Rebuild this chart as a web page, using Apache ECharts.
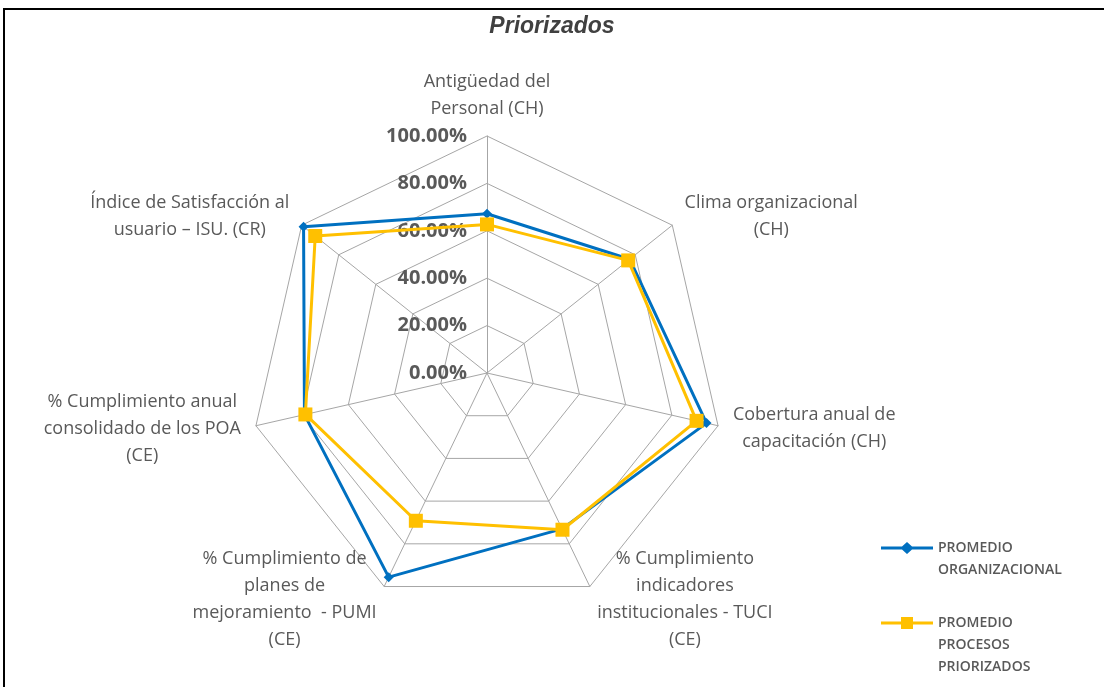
<!DOCTYPE html>
<html>
<head>
<meta charset="utf-8">
<script src="https://cdn.jsdelivr.net/npm/echarts@6/dist/echarts.min.js"></script>
<style>
html,body{margin:0;padding:0;background:#fff;}
#chart{width:1104px;height:687px;}
</style>
</head>
<body>
<div id="chart"></div>
<script>
// Indicators in ECharts order (top first, then counter-clockwise)
const categories = [
  'Antigüedad del\nPersonal (CH)',
  'Índice de Satisfacción al\nusuario – ISU. (CR)',
  '% Cumplimiento anual\nconsolidado de los POA\n(CE)',
  '% Cumplimiento de\nplanes de\nmejoramiento  - PUMI\n(CE)',
  '% Cumplimiento\nindicadores\ninstitucionales - TUCI\n(CE)',
  'Cobertura anual de\ncapacitación (CH)',
  'Clima organizacional\n(CH)'
];
const promedioOrganizacional = [67.2, 99.0, 79.0, 95.6, 73.0, 95.0, 77.0];
const promedioProcesos = [62.7, 92.7, 78.6, 69.2, 73.4, 90.7, 76.2];
const seriesNames = ['PROMEDIO\nORGANIZACIONAL', 'PROMEDIO\nPROCESOS\nPRIORIZADOS'];
const axisMax = 100;

const gray = '#595959';
const nameFont = 'Open Sans';
const nameSize = 18;

// measure label widths so each multi-line name can be centred line by line
const cv = document.createElement('canvas').getContext('2d');
cv.font = nameSize + 'px "' + nameFont + '"';
const rich = {};
categories.forEach((c, i) => {
  const w = Math.max(...c.split('\n').map(l => cv.measureText(l).width));
  rich['n' + i] = { width: Math.ceil(w) + 2, align: 'center', color: gray, fontSize: nameSize, fontFamily: nameFont, lineHeight: 27 };
});

const chart = echarts.init(document.getElementById('chart'));
const indicator = categories.map((c, i) => {
  const o = { name: c, min: 0, max: axisMax };
  if (i === 0) {
    o.axisLabel = {
      show: true,
      formatter: v => Number(v).toFixed(2) + '%',
      color: gray,
      fontSize: 20,
      fontWeight: 'bold',
      fontFamily: 'Open Sans',
      margin: 20
    };
  }
  return o;
});

function legendText(name) {
  const n = name.split('\n').length;
  return '\n'.repeat(n - 1) + name;
}

const legendTextStyle = { color: gray, fontSize: 14, fontWeight: 600, fontFamily: 'Open Sans', lineHeight: 22 };

chart.setOption({
  backgroundColor: '#fff',
  animation: false,
  title: {
    text: 'Priorizados',
    left: 'center',
    top: 10,
    textStyle: { fontFamily: 'Liberation Sans', fontSize: 23, fontWeight: 'bold', fontStyle: 'italic', color: '#404040' }
  },
  graphic: [{
    type: 'rect',
    shape: { x: 4, y: 9, width: 1200, height: 800 },
    style: { fill: 'none', stroke: '#000', lineWidth: 2 },
    silent: true
  }],
  legend: [{
    orient: 'vertical',
    left: 876,
    top: 510,
    itemWidth: 52,
    itemHeight: 12,
    formatter: legendText,
    data: [{
      name: seriesNames[0],
      icon: 'path://M0,4.5 L21,4.5 L26,0 L31,4.5 L52,4.5 L52,7.5 L31,7.5 L26,12 L21,7.5 L0,7.5 Z',
      itemStyle: { color: '#0070C0' }
    }],
    textStyle: legendTextStyle
  }, {
    orient: 'vertical',
    left: 876,
    top: 563,
    itemWidth: 52,
    itemHeight: 12,
    formatter: legendText,
    data: [{
      name: seriesNames[1],
      icon: 'path://M0,4.5 L20,4.5 L20,0 L32,0 L32,4.5 L52,4.5 L52,7.5 L32,7.5 L32,12 L20,12 L20,7.5 L0,7.5 Z',
      itemStyle: { color: '#FFC000' }
    }],
    textStyle: legendTextStyle
  }],
  radar: {
    center: [487, 373],
    radius: 237,
    startAngle: 90,
    shape: 'polygon',
    splitNumber: 5,
    nameGap: 14,
    axisName: {
      color: gray, fontSize: nameSize, fontFamily: nameFont, lineHeight: 27,
      formatter: (name) => {
        const i = categories.indexOf(name);
        return name.split('\n').map(l => '{n' + i + '|' + l + '}').join('\n');
      },
      rich: rich
    },
    axisLine: { lineStyle: { color: '#A6A6A6', width: 1 } },
    splitLine: { lineStyle: { color: '#A6A6A6', width: 1 } },
    splitArea: { show: false },
    axisLabel: { show: false },
    indicator: indicator
  },
  series: [{
    type: 'radar',
    z: 2,
    symbol: 'diamond',
    symbolSize: 10,
    lineStyle: { color: '#0070C0', width: 3 },
    itemStyle: { color: '#0070C0' },
    data: [{ name: seriesNames[0], value: promedioOrganizacional }]
  }, {
    type: 'radar',
    z: 3,
    symbol: 'rect',
    symbolSize: 14,
    lineStyle: { color: '#FFC000', width: 3 },
    itemStyle: { color: '#FFC000' },
    data: [{ name: seriesNames[1], value: promedioProcesos }]
  }]
});
</script>
</body>
</html>
